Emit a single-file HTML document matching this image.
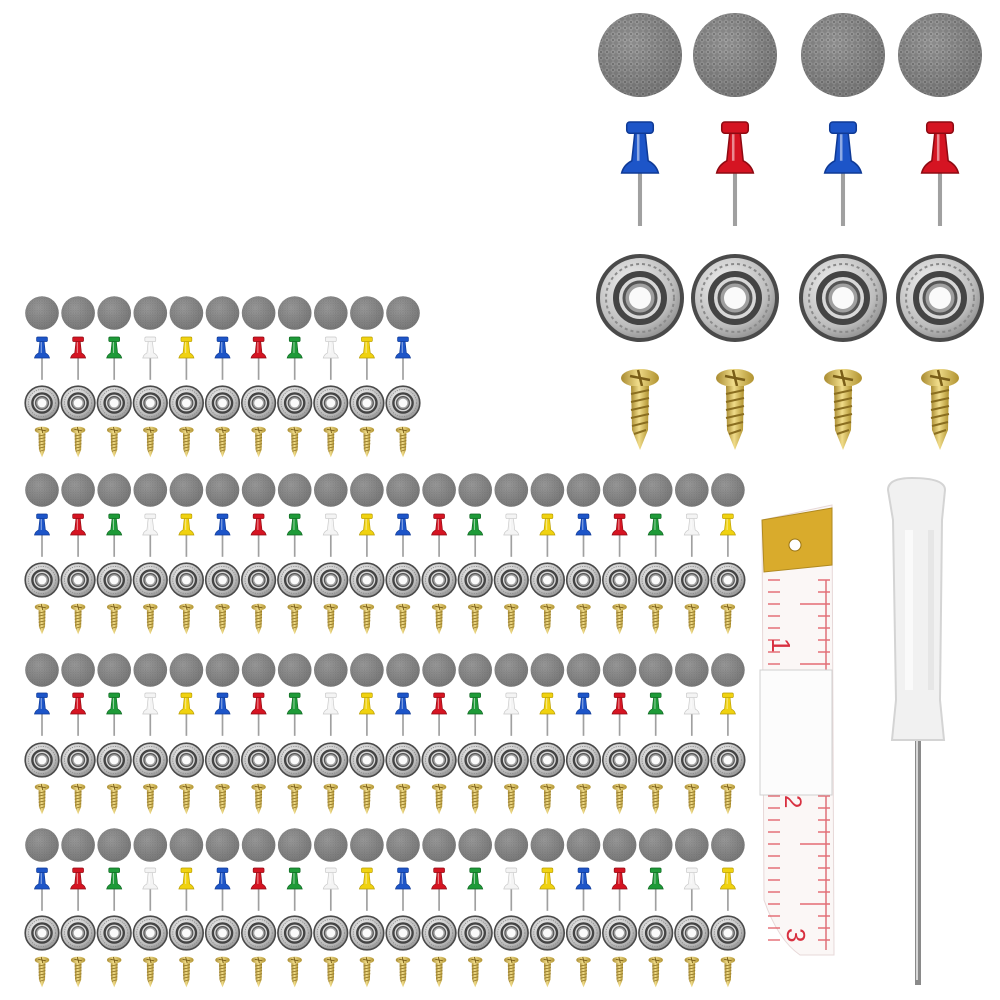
<!DOCTYPE html>
<html><head><meta charset="utf-8"><style>
html,body{margin:0;padding:0;background:#fff;width:1000px;height:1000px;overflow:hidden}
</style></head><body>
<svg id="s" width="1000" height="1000" viewBox="0 0 1000 1000" xmlns="http://www.w3.org/2000/svg">
<defs>
<pattern id="mesh" width="6" height="6" patternUnits="userSpaceOnUse">
<rect width="6" height="6" fill="#8c8c8c"/><path d="M0 3L3 0L6 3L3 6Z" fill="#a2a2a2"/><circle cx="3" cy="3" r="1" fill="#747474"/>
</pattern>
<radialGradient id="btnG" cx="40%" cy="35%" r="70%"><stop offset="0" stop-color="#000" stop-opacity="0"/><stop offset="1" stop-color="#000" stop-opacity="0.22"/></radialGradient>
<radialGradient id="snapG" cx="40%" cy="35%" r="70%"><stop offset="0" stop-color="#f2f2f2"/><stop offset="0.7" stop-color="#bdbdbd"/><stop offset="1" stop-color="#8a8a8a"/></radialGradient>
<linearGradient id="gold" x1="0" x2="1"><stop offset="0" stop-color="#a88a30"/><stop offset="0.45" stop-color="#f0dc8a"/><stop offset="1" stop-color="#b0922f"/></linearGradient>
<g id="button"><circle r="42" fill="url(#mesh)"/><circle r="42" fill="url(#btnG)"/></g>
<g id="snap"><circle r="42" fill="url(#snapG)" stroke="#4a4a4a" stroke-width="4"/><circle r="34" fill="none" stroke="#8a8a8a" stroke-width="2" stroke-dasharray="3 3"/><circle r="24" fill="#d8d8d8" stroke="#444" stroke-width="6"/><circle r="16" fill="#a0a0a0" stroke="#555" stroke-width="3"/><circle r="11" fill="#fafafa"/></g>
<g id="screw"><ellipse cx="0" cy="8" rx="19" ry="9" fill="url(#gold)"/><path d="M-10 6L10 10M-2 0L2 16" stroke="#7a5e18" stroke-width="2.5"/><path d="M-9 16L9 16L8 60L0 80L-8 60Z" fill="url(#gold)"/><path d="M-9 24L9 20M-9 32L9 28M-9 40L9 36M-9 48L9 44M-8 56L8 52M-6 64L6 60" stroke="#8a6e20" stroke-width="2"/></g>
</defs>
</svg>
<script>
const s=document.getElementById('s');const NS='http://www.w3.org/2000/svg';
function el(t,a,p){const e=document.createElementNS(NS,t);for(const k in a)e.setAttribute(k,a[k]);(p||s).appendChild(e);return e;}
function use(id,x,y,sc){el('use',{href:'#'+id,transform:`translate(${x},${y}) scale(${sc})`});}
const cols={b:['#1d55c8','#0f3a96'],r:['#d51422','#8e0a12'],g:['#1e9a38','#0f6621'],w:['#f4f4f4','#c8c8c8'],y:['#f0d210','#b89c00']};
function pin(x,y,sc,c){const g=el('g',{transform:`translate(${x},${y}) scale(${sc})`});const [f,d]=cols[c];
el('line',{x1:0,y1:50,x2:0,y2:102,stroke:'#a0a0a0','stroke-width':4},g);
el('path',{d:'M-18 50Q-16 42 -8 38L-5 10L5 10L8 38Q16 42 18 50Z',fill:f,stroke:d,'stroke-width':1.5},g);
el('rect',{x:-13,y:0,width:26,height:11,rx:3,fill:f,stroke:d,'stroke-width':1.5},g);
el('rect',{x:-3,y:12,width:2.5,height:26,fill:'#fff',opacity:0.5},g);}
const TX=[640,735,843,940],TC=['b','r','b','r'];
TX.forEach((x,i)=>{use('button',x,55,1);pin(x,122,1.02,TC[i]);use('snap',x,298,1);use('screw',x,370,1);});
const seq=['b','r','g','w','y'];
function group(n,yb,yp,ys,yw){for(let i=0;i<n;i++){const x=42+i*36.1;use('button',x,yb,0.4);pin(x,yp,0.42,seq[i%5]);use('snap',x,ys,0.4);use('screw',x,yw,0.38);}}
group(11,313,337,403,427);
group(20,490,514,580,604);
group(20,670,693,760,784);
group(20,845,868,933,957);
el('path',{d:'M762 520L832 505L834 955L800 955Q778 940 764 900Z',fill:'#fbf7f6',stroke:'#e7d8d8'});
for(let y=580;y<950;y+=12){el('line',{x1:830,y1:y,x2:(y%60<12?800:818),y2:y,stroke:'#e0505a','stroke-width':1.2});el('line',{x1:768,y1:y,x2:780,y2:y,stroke:'#e0505a','stroke-width':1.2});}
el('line',{x1:826,y1:580,x2:826,y2:950,stroke:'#e07078','stroke-width':1.5});
el('path',{d:'M762 520L832 508L832 565L764 572Z',fill:'#d9ab2c',stroke:'#b08a20'});
el('circle',{cx:795,cy:545,r:6,fill:'#fff',stroke:'#9a7412'});
el('rect',{x:760,y:670,width:72,height:125,fill:'#fcfcfc',stroke:'#d0d0d0'});
const t1=el('text',{x:770,y:660,fill:'#d83040','font-size':26,'font-family':'Liberation Sans,sans-serif',transform:'rotate(90 782 650)'});t1.textContent='1';
const t2=el('text',{x:780,y:810,fill:'#d83040','font-size':24,'font-family':'Liberation Sans,sans-serif',transform:'rotate(90 790 805)'});t2.textContent='2';
const t3=el('text',{x:780,y:945,fill:'#d83040','font-size':26,'font-family':'Liberation Sans,sans-serif',transform:'rotate(90 792 940)'});t3.textContent='3';
el('line',{x1:918,y1:740,x2:918,y2:985,stroke:'#8a8a8a','stroke-width':6});
el('line',{x1:917,y1:740,x2:917,y2:980,stroke:'#d8d8d8','stroke-width':2});
el('path',{d:'M888 490Q888 478 912 478Q945 478 945 490L942 520L940 700L944 740L892 740L896 700L893 520Z',fill:'#f1f1f1',stroke:'#d4d4d4','stroke-width':2});
el('rect',{x:905,y:530,width:8,height:160,fill:'#fafafa'});
el('rect',{x:928,y:530,width:6,height:160,fill:'#e6e6e6'});
</script>
</body></html>
